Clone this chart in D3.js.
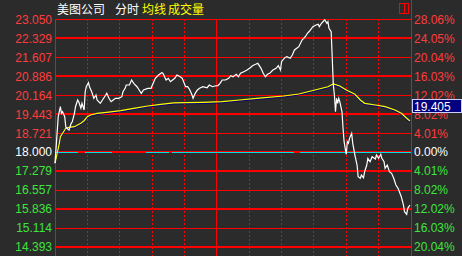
<!DOCTYPE html>
<html>
<head>
<meta charset="utf-8">
<script src="https://cdn.jsdelivr.net/npm/d3@7"></script>
<style>
body { margin: 0; background: #2b2b2b; }
svg { display: block; }
</style>
</head>
<body>
<div id="chart"></div>
<script>
// price ticks (left) and percent ticks (right)
var priceTicks = [23.050, 22.329, 21.607, 20.886, 20.164, 19.443, 18.721, 18.000, 17.279, 16.557, 15.836, 15.114, 14.393];
var pctLabels = ["28.06%", "24.05%", "20.04%", "16.03%", "12.02%", "8.02%", "4.01%", "0.00%", "4.01%", "8.02%", "12.02%", "16.03%", "20.04%"];
var prevClose = 18.000;
var lastAvg = 19.405;

// HK session: 150 min morning + 180 min afternoon
var totalMinutes = 330;
var halfHours = [30, 60, 90, 120, 180, 210, 240, 270, 300];
var lunchBreak = 150;

var minutes = [0, 3, 5, 6, 7, 9, 10, 11, 13, 15, 16, 18, 19, 21, 22, 24, 25, 27, 28, 29, 31, 32, 34, 36, 38, 39, 42, 44, 46, 48, 50, 52, 54, 56, 59, 62, 63, 65, 66, 69, 71, 73, 76, 78, 80, 82, 86, 89, 91, 93, 96, 99, 100, 103, 105, 107, 109, 111, 113, 116, 118, 121, 123, 125, 127, 128, 130, 132, 134, 137, 141, 143, 146, 148, 151, 153, 155, 158, 161, 163, 165, 168, 170, 172, 175, 178, 181, 183, 186, 188, 191, 193, 195, 197, 199, 202, 205, 207, 209, 210, 213, 215, 218, 220, 222, 226, 229, 232, 234, 236, 239, 242, 244, 245, 247, 249, 250, 252, 253, 254, 256, 257, 258, 259, 260, 261, 262, 263, 264, 266, 267, 268, 269, 270, 271, 272, 273, 275, 276, 278, 280, 281, 283, 284, 286, 287, 289, 290, 292, 294, 297, 298, 300, 302, 303, 305, 306, 308, 310, 312, 314, 316, 318, 321, 323, 324, 326, 327, 329];
var prices = [17.575, 19.347, 19.727, 19.476, 19.537, 19.347, 18.966, 18.906, 18.841, 19.096, 19.156, 19.476, 19.727, 19.982, 19.917, 19.666, 19.856, 19.601, 20.297, 20.487, 20.639, 20.487, 20.297, 20.046, 20.172, 19.982, 19.856, 19.982, 20.107, 20.236, 20.046, 19.917, 19.982, 20.046, 20.046, 20.107, 20.297, 20.426, 20.552, 20.552, 20.742, 20.617, 20.487, 20.362, 20.236, 20.362, 20.426, 20.426, 20.617, 20.807, 20.932, 21.020, 20.997, 20.742, 20.807, 20.677, 20.742, 20.807, 20.932, 20.867, 20.807, 20.487, 20.487, 20.362, 20.172, 20.046, 20.236, 20.362, 20.426, 20.487, 20.449, 20.552, 20.487, 20.514, 20.525, 20.617, 20.742, 20.742, 20.807, 20.906, 20.867, 20.959, 20.867, 20.997, 21.058, 21.122, 21.210, 21.286, 21.339, 21.377, 21.187, 20.997, 20.867, 20.959, 20.997, 21.122, 21.187, 21.286, 21.122, 21.438, 21.590, 21.628, 21.567, 21.693, 21.883, 22.008, 22.263, 22.388, 22.518, 22.605, 22.769, 22.833, 22.860, 22.769, 22.898, 22.985, 23.035, 22.898, 22.959, 22.708, 22.579, 21.567, 20.552, 20.172, 19.537, 20.046, 19.856, 20.046, 19.917, 19.537, 18.906, 18.396, 18.145, 17.917, 18.396, 18.335, 18.525, 18.715, 18.335, 17.890, 17.510, 17.065, 17.004, 17.130, 17.027, 17.255, 17.510, 17.765, 17.636, 17.826, 17.738, 17.890, 17.765, 17.917, 17.765, 17.636, 17.385, 17.510, 17.255, 17.194, 17.004, 16.750, 16.624, 16.305, 15.989, 15.734, 15.636, 15.864, 15.989];

var avgMinutes = [0, 2, 4, 5, 8, 10, 13, 18, 21, 24, 27, 30, 33, 39, 48, 61, 73, 86, 98, 110, 121, 137, 155, 171, 187, 212, 226, 241, 253, 258, 264, 270, 278, 283, 287, 297, 306, 315, 321, 326, 329];
var avgPrices = [17.575, 17.955, 18.335, 18.586, 18.776, 18.906, 18.944, 18.966, 19.031, 19.096, 19.194, 19.347, 19.411, 19.476, 19.514, 19.575, 19.666, 19.753, 19.818, 19.870, 19.879, 19.894, 19.917, 19.982, 20.046, 20.134, 20.210, 20.362, 20.487, 20.590, 20.514, 20.362, 20.198, 19.982, 19.856, 19.791, 19.727, 19.601, 19.476, 19.286, 19.183];

// stretches where the cyan zero line gives way to the red grid
var zeroGaps = [[21, 28], [53, 84], [106, 108], [222, 227]];

var svgWidth = 462;
var svgHeight = 256;
var margin = { top: 19.3, right: 51, bottom: 9, left: 55 };
var width = svgWidth - margin.left - margin.right;
var height = svgHeight - margin.top - margin.bottom;

var RED = "#ff0000", BORDER = "#c81e1e", UP = "#ff3c3c", DOWN = "#3ce63c";

var svg = d3.select("#chart")
    .append("svg")
    .attr("width", svgWidth)
    .attr("height", svgHeight);

svg.append("rect").attr("width", svgWidth).attr("height", svgHeight).attr("fill", "#2b2b2b");

var chartGroup = svg.append("g")
    .attr("transform", `translate(${margin.left}, ${margin.top})`);

var x = d3.scaleLinear().domain([0, totalMinutes]).range([0, width]);
var y = d3.scaleLinear().domain([d3.min(priceTicks), d3.max(priceTicks)]).range([height, 0]);

function tickColor(v) {
    if (Math.abs(v - prevClose) < 1e-6) return "#ffffff";
    return v > prevClose ? UP : DOWN;
}

// horizontal grid
var zeroIndex = priceTicks.indexOf(prevClose);
chartGroup.append("g")
    .selectAll("line")
    .data(priceTicks)
    .enter()
    .append("line")
    .attr("x1", 0)
    .attr("x2", width)
    .attr("y1", d => y(d))
    .attr("y2", d => y(d))
    .attr("stroke", RED)
    .attr("stroke-width", (d, i) => (i === 0 ? 1 : (i < zeroIndex ? i % 2 === 1 : i % 2 === 0) || i === zeroIndex ? 2 : 1))
    .attr("shape-rendering", "crispEdges");

// vertical half hour grid
chartGroup.append("g")
    .selectAll("line")
    .data(halfHours)
    .enter()
    .append("line")
    .attr("x1", d => x(d))
    .attr("x2", d => x(d))
    .attr("y1", 0)
    .attr("y2", svgHeight)
    .attr("stroke", RED)
    .attr("stroke-dasharray", "2,2")
    .attr("shape-rendering", "crispEdges");

chartGroup.append("line")
    .attr("x1", x(lunchBreak)).attr("x2", x(lunchBreak))
    .attr("y1", 0).attr("y2", svgHeight)
    .attr("stroke", RED)
    .attr("shape-rendering", "crispEdges");

// borders
chartGroup.append("line")
    .attr("x1", 0).attr("x2", 0).attr("y1", 0).attr("y2", svgHeight)
    .attr("stroke", BORDER).attr("shape-rendering", "crispEdges");
svg.append("line")
    .attr("x1", margin.left + width).attr("x2", margin.left + width)
    .attr("y1", 0).attr("y2", svgHeight)
    .attr("stroke", BORDER).attr("shape-rendering", "crispEdges");

// cyan zero line
var zeroSegs = [];
var start = 0;
zeroGaps.forEach(function(g) {
    zeroSegs.push([start, g[0]]);
    start = g[1];
});
zeroSegs.push([start, totalMinutes]);
chartGroup.append("g")
    .selectAll("line")
    .data(zeroSegs)
    .enter()
    .append("line")
    .attr("x1", d => x(d[0]))
    .attr("x2", d => x(d[1]))
    .attr("y1", y(prevClose) + 0.5)
    .attr("y2", y(prevClose) + 0.5)
    .attr("stroke", "#00e0e0")
    .attr("shape-rendering", "crispEdges");

// axes
var leftAxis = d3.axisLeft(y)
    .tickValues(priceTicks)
    .tickSize(0)
    .tickPadding(3)
    .tickFormat(d3.format(".3f"));
var yAxisL = chartGroup.append("g").call(leftAxis);

var rightAxis = d3.axisRight(y)
    .tickValues(priceTicks)
    .tickSize(0)
    .tickPadding(3)
    .tickFormat((d, i) => pctLabels[i]);
var yAxisR = chartGroup.append("g")
    .attr("transform", `translate(${width}, 0)`)
    .call(rightAxis);

[yAxisL, yAxisR].forEach(function(ax) {
    ax.select(".domain").remove();
    ax.selectAll("text")
        .attr("font-family", "'Liberation Sans', Arial, sans-serif")
        .attr("font-size", "12px")
        .attr("fill", d => tickColor(d));
});

// average line with its dark shadow
var avgData = avgMinutes.map((m, i) => ({ m: m, p: avgPrices[i] }));
var avgLine = d3.line().x(d => x(d.m)).y(d => y(d.p));
chartGroup.append("path")
    .datum(avgData)
    .attr("d", avgLine)
    .attr("transform", "translate(0,1)")
    .attr("fill", "none")
    .attr("stroke", "#000080")
    .attr("stroke-width", 1.2);
chartGroup.append("path")
    .datum(avgData)
    .attr("d", avgLine)
    .attr("fill", "none")
    .attr("stroke", "#ffff00")
    .attr("stroke-width", 1.2);

// price line
var priceData = minutes.map((m, i) => ({ m: m, p: prices[i] }));
chartGroup.append("path")
    .datum(priceData)
    .attr("d", d3.line().x(d => x(d.m)).y(d => y(d.p)))
    .attr("fill", "none")
    .attr("stroke", "#ffffff")
    .attr("stroke-width", 1.2);

// value tag on right axis
var tag = svg.append("g")
    .attr("transform", `translate(${margin.left + width + 1}, ${margin.top + y(lastAvg) - 16})`);
tag.append("rect")
    .attr("width", 49)
    .attr("height", 13)
    .attr("fill", "#000080")
    .attr("stroke", "#d0d0ff")
    .attr("shape-rendering", "crispEdges");
tag.append("text")
    .attr("x", 2)
    .attr("y", 11.5)
    .attr("font-family", "'Liberation Sans', Arial, sans-serif")
    .attr("font-size", "12px")
    .attr("fill", "#ffffff")
    .text(d3.format(".3f")(lastAvg));

// header
var header = [
    { t: "美图公司", x: 57, c: "#ffffff" },
    { t: "分时", x: 115, c: "#ffffff" },
    { t: "均线", x: 142, c: "#ffff00" },
    { t: "成交量", x: 168, c: "#ffff00" }
];
svg.append("g")
    .selectAll("text")
    .data(header)
    .enter()
    .append("text")
    .attr("x", d => d.x)
    .attr("y", 14)
    .attr("font-family", "'Noto Sans CJK SC', sans-serif")
    .attr("font-size", "12px")
    .attr("fill", d => d.c)
    .text(d => d.t);

// small layout icon top right
svg.append("rect")
    .attr("x", 399.5).attr("y", 3.5).attr("width", 9).attr("height", 10)
    .attr("fill", "none").attr("stroke", RED);
svg.append("line")
    .attr("x1", 404.5).attr("x2", 404.5).attr("y1", 3.5).attr("y2", 13.5)
    .attr("stroke", RED);
</script>
</body>
</html>
